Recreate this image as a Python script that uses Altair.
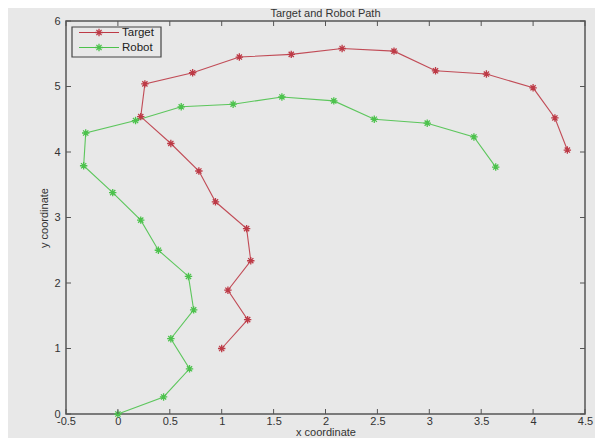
import altair as alt
import pandas as pd

# ---- data ----
target_x = [1.00, 1.25, 1.06, 1.28, 1.24, 0.94, 0.78, 0.51, 0.22, 0.26, 0.72, 1.17, 1.67, 2.16, 2.66, 3.06, 3.55, 4.00, 4.21, 4.33]
target_y = [1.00, 1.44, 1.89, 2.34, 2.83, 3.24, 3.71, 4.13, 4.54, 5.04, 5.21, 5.45, 5.49, 5.58, 5.54, 5.24, 5.19, 4.98, 4.52, 4.03]
robot_x = [0.00, 0.44, 0.69, 0.51, 0.73, 0.68, 0.39, 0.22, -0.05, -0.33, -0.31, 0.17, 0.61, 1.11, 1.58, 2.08, 2.47, 2.98, 3.43, 3.64]
robot_y = [0.00, 0.26, 0.69, 1.15, 1.59, 2.10, 2.50, 2.96, 3.38, 3.79, 4.29, 4.48, 4.69, 4.73, 4.84, 4.78, 4.50, 4.44, 4.23, 3.77]
series = ["Target", "Robot"]
colors = ["#bd3a46", "#4cc24c"]
x_ticks = [-0.5, 0, 0.5, 1, 1.5, 2, 2.5, 3, 3.5, 4, 4.5]
y_ticks = [0, 1, 2, 3, 4, 5, 6]

W, H = 519, 393
FONT = "Liberation Sans"
BG = "#e8e8e8"
ASTER = "M-1,0H1M0,-1V1M-0.7,-0.7L0.7,0.7M-0.7,0.7L0.7,-0.7"
LABEL_EXPR = "replace(format(datum.value, '~g'), '\u2212', '-')"

rows = []
for i, (x, y) in enumerate(zip(target_x, target_y)):
    rows.append({"s": "Target", "i": i, "x": x, "y": y})
for i, (x, y) in enumerate(zip(robot_x, robot_y)):
    rows.append({"s": "Robot", "i": i, "x": x, "y": y})
df = pd.DataFrame(rows)

xscale = alt.Scale(domain=[-0.5, 4.5], nice=False, zero=False)
yscale = alt.Scale(domain=[0, 6], nice=False, zero=False)
cscale = alt.Scale(domain=series, range=colors)

xenc = alt.X("x:Q", scale=xscale,
             axis=alt.Axis(values=x_ticks, tickSize=0, domain=False, grid=False,
                           title="x coordinate", labelPadding=1, titlePadding=0,
                           labelExpr=LABEL_EXPR,
                           labelFlush=False, labelOverlap=False))
yenc = alt.Y("y:Q", scale=yscale,
             axis=alt.Axis(values=y_ticks, tickSize=0, domain=False, grid=False,
                           title="y coordinate", labelPadding=6, titlePadding=4,
                           labelExpr=LABEL_EXPR,
                           labelFlush=False, labelOverlap=False))

lines = alt.Chart(df).mark_line(strokeWidth=1.1, opacity=0.9).encode(
    x=xenc, y=yenc,
    color=alt.Color("s:N", scale=cscale, legend=None),
    order=alt.Order("i:Q"),
    detail="s:N",
)
points = alt.Chart(df).mark_point(shape=ASTER, filled=False, size=55, strokeWidth=1.3, opacity=1).encode(
    x="x:Q", y="y:Q",
    color=alt.Color("s:N", scale=cscale, legend=None),
)

# inward ticks on all four sides
xt = pd.DataFrame({"x": x_ticks})
yt = pd.DataFrame({"y": y_ticks})
tick_style = dict(color="#555555", strokeWidth=1)
xt_bottom = alt.Chart(xt).mark_rule(**tick_style).encode(x="x:Q", y=alt.value(H), y2=alt.value(H - 5))
xt_top = alt.Chart(xt).mark_rule(**tick_style).encode(x="x:Q", y=alt.value(0), y2=alt.value(5))
yt_left = alt.Chart(yt).mark_rule(**tick_style).encode(y="y:Q", x=alt.value(0), x2=alt.value(5))
yt_right = alt.Chart(yt).mark_rule(**tick_style).encode(y="y:Q", x=alt.value(W), x2=alt.value(W - 5))

# legend box (top-left, inside)
one = pd.DataFrame({"a": [0]})
legend_layers = [
    alt.Chart(one).mark_rect(fill=BG, stroke="#444444", strokeWidth=1.2).encode(
        x=alt.value(6), x2=alt.value(95), y=alt.value(6), y2=alt.value(36))
]
for k, (name, col) in enumerate(zip(series, colors)):
    yy = 11.5 + 15 * k
    legend_layers.append(alt.Chart(one).mark_rule(color=col, strokeWidth=1.1).encode(
        x=alt.value(13), x2=alt.value(53), y=alt.value(yy)))
    legend_layers.append(alt.Chart(one).mark_point(shape=ASTER, filled=False, size=55,
                                                   strokeWidth=1.3, color=col, opacity=1).encode(
        x=alt.value(33), y=alt.value(yy)))
    legend_layers.append(alt.Chart(one).mark_text(text=name, align="left", baseline="middle",
                                                  font=FONT, fontSize=11.5, color="#222222").encode(
        x=alt.value(56), y=alt.value(yy)))

chart = alt.layer(
    lines, points, xt_bottom, xt_top, yt_left, yt_right, *legend_layers
).properties(
    width=W, height=H,
    title=alt.TitleParams("Target and Robot Path", font=FONT, fontSize=11, fontWeight="normal",
                          color="#333333", offset=-4),
    autosize=alt.AutoSizeParams(type="none"),
    padding={"left": 58, "top": 13, "right": 10, "bottom": 24},
    background=BG,
).configure_view(
    stroke="#555555", strokeWidth=1.5, fill=BG
).configure_axis(
    labelFont=FONT, labelFontSize=11, labelColor="#333333",
    titleFont=FONT, titleFontSize=11, titleFontWeight="normal", titleColor="#333333",
)

chart.save("out.html", embed_options={"renderer": "svg", "actions": False})
